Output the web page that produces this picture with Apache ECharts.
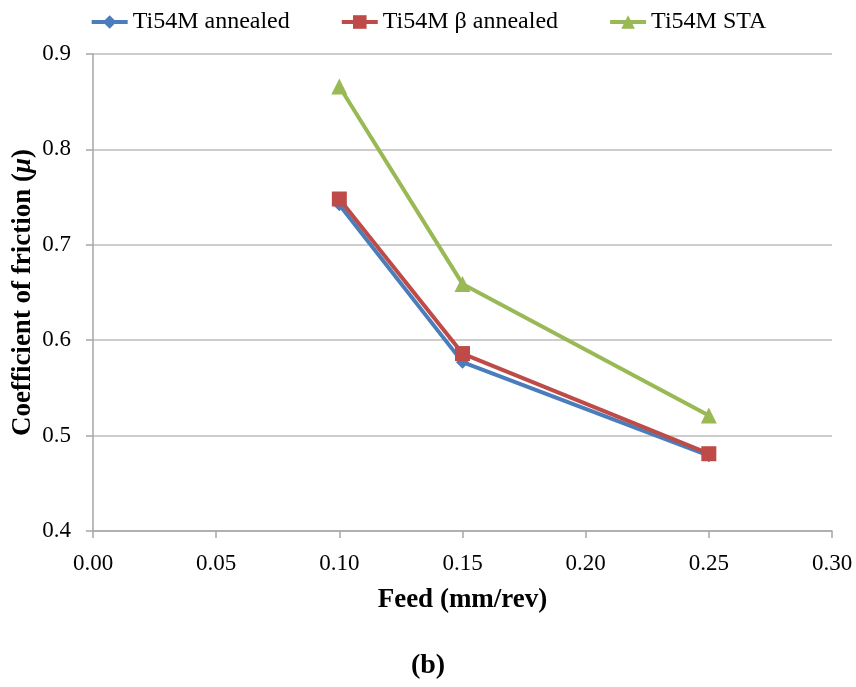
<!DOCTYPE html>
<html lang="en">
<head>
    <meta charset="UTF-8">
    <title>Coefficient of friction</title>
    <script src="https://cdn.jsdelivr.net/npm/echarts@6/dist/echarts.min.js"></script>
    <style>
        body { margin: 0; background: #fff; }
    </style>
</head>
<body>
    <div id="main" style="width: 856px;height:687px;"></div>
    <script>
        var feed = [0.10, 0.15, 0.25];
        var annealed = [0.742, 0.577, 0.479];
        var betaAnnealed = [0.748, 0.586, 0.481];
        var sta = [0.866, 0.659, 0.521];
        var names = ['Ti54M annealed', 'Ti54M \u03b2 annealed', 'Ti54M STA'];

        var serif = '"Liberation Serif", "Times New Roman", serif';

        function pairs(ys) {
            return feed.map((x, i) => [x, ys[i]]);
        }

        var myChart = echarts.init(document.getElementById('main'));

        var option = {
            animation: false,
            textStyle: { fontFamily: serif },
            title: {
                text: '(b)',
                left: 'center',
                top: 652,
                padding: 0,
                textStyle: { fontFamily: serif, fontSize: 28, fontWeight: 'bold', color: '#000' }
            },
            legend: {
                top: 5,
                left: 'center',
                itemWidth: 36,
                itemHeight: 17,
                itemGap: 50,
                lineStyle: { width: 4 },
                textStyle: { fontFamily: serif, fontSize: 24, color: '#000' },
                data: names
            },
            grid: { left: 93, right: 24, top: 54, bottom: 156, outerBoundsMode: 'none' },
            xAxis: {
                type: 'value',
                min: 0,
                max: 0.3,
                interval: 0.05,
                name: 'Feed (mm/rev)',
                nameLocation: 'middle',
                nameGap: 56,
                nameMoveOverlap: false,
                nameTextStyle: { fontFamily: serif, fontSize: 27, fontWeight: 'bold', color: '#000' },
                axisLine: { lineStyle: { color: '#a6a6a6', width: 1.5 } },
                axisTick: { show: true, length: 7, lineStyle: { color: '#a6a6a6', width: 1.5 } },
                axisLabel: {
                    fontFamily: serif, fontSize: 23, color: '#000', margin: 21,
                    formatter: v => v.toFixed(2)
                },
                splitLine: { show: false }
            },
            yAxis: {
                type: 'value',
                min: 0.4,
                max: 0.9,
                interval: 0.1,
                name: '{b|Coefficient of friction (}{i|\u03bc}{b|)}',
                nameLocation: 'middle',
                nameGap: 56,
                nameRotate: 90,
                nameMoveOverlap: false,
                nameTextStyle: {
                    rich: {
                        b: { fontFamily: serif, fontSize: 27, fontWeight: 'bold', color: '#000' },
                        i: { fontFamily: serif, fontSize: 27, fontWeight: 'bold', fontStyle: 'italic', color: '#000' }
                    }
                },
                axisLine: { show: true, lineStyle: { color: '#a6a6a6', width: 1.5 } },
                axisTick: { show: true, length: 7, lineStyle: { color: '#a6a6a6', width: 1.5 } },
                axisLabel: {
                    fontFamily: serif, fontSize: 23, color: '#000', margin: 22,
                    formatter: v => v.toFixed(1)
                },
                splitLine: { lineStyle: { color: '#bcbcbc', width: 1.5 } }
            },
            series: [
                {
                    name: names[0],
                    type: 'line',
                    data: pairs(annealed),
                    symbol: 'diamond',
                    symbolSize: 13,
                    lineStyle: { color: '#4a7ebb', width: 4 },
                    itemStyle: { color: '#4a7ebb' }
                },
                {
                    name: names[1],
                    type: 'line',
                    data: pairs(betaAnnealed),
                    symbol: 'rect',
                    symbolSize: 15,
                    lineStyle: { color: '#be4b48', width: 4 },
                    itemStyle: { color: '#be4b48' }
                },
                {
                    name: names[2],
                    type: 'line',
                    data: pairs(sta),
                    symbol: 'triangle',
                    symbolSize: 16,
                    lineStyle: { color: '#98b954', width: 4 },
                    itemStyle: { color: '#98b954' }
                }
            ]
        };

        myChart.setOption(option);
    </script>
</body>
</html>
